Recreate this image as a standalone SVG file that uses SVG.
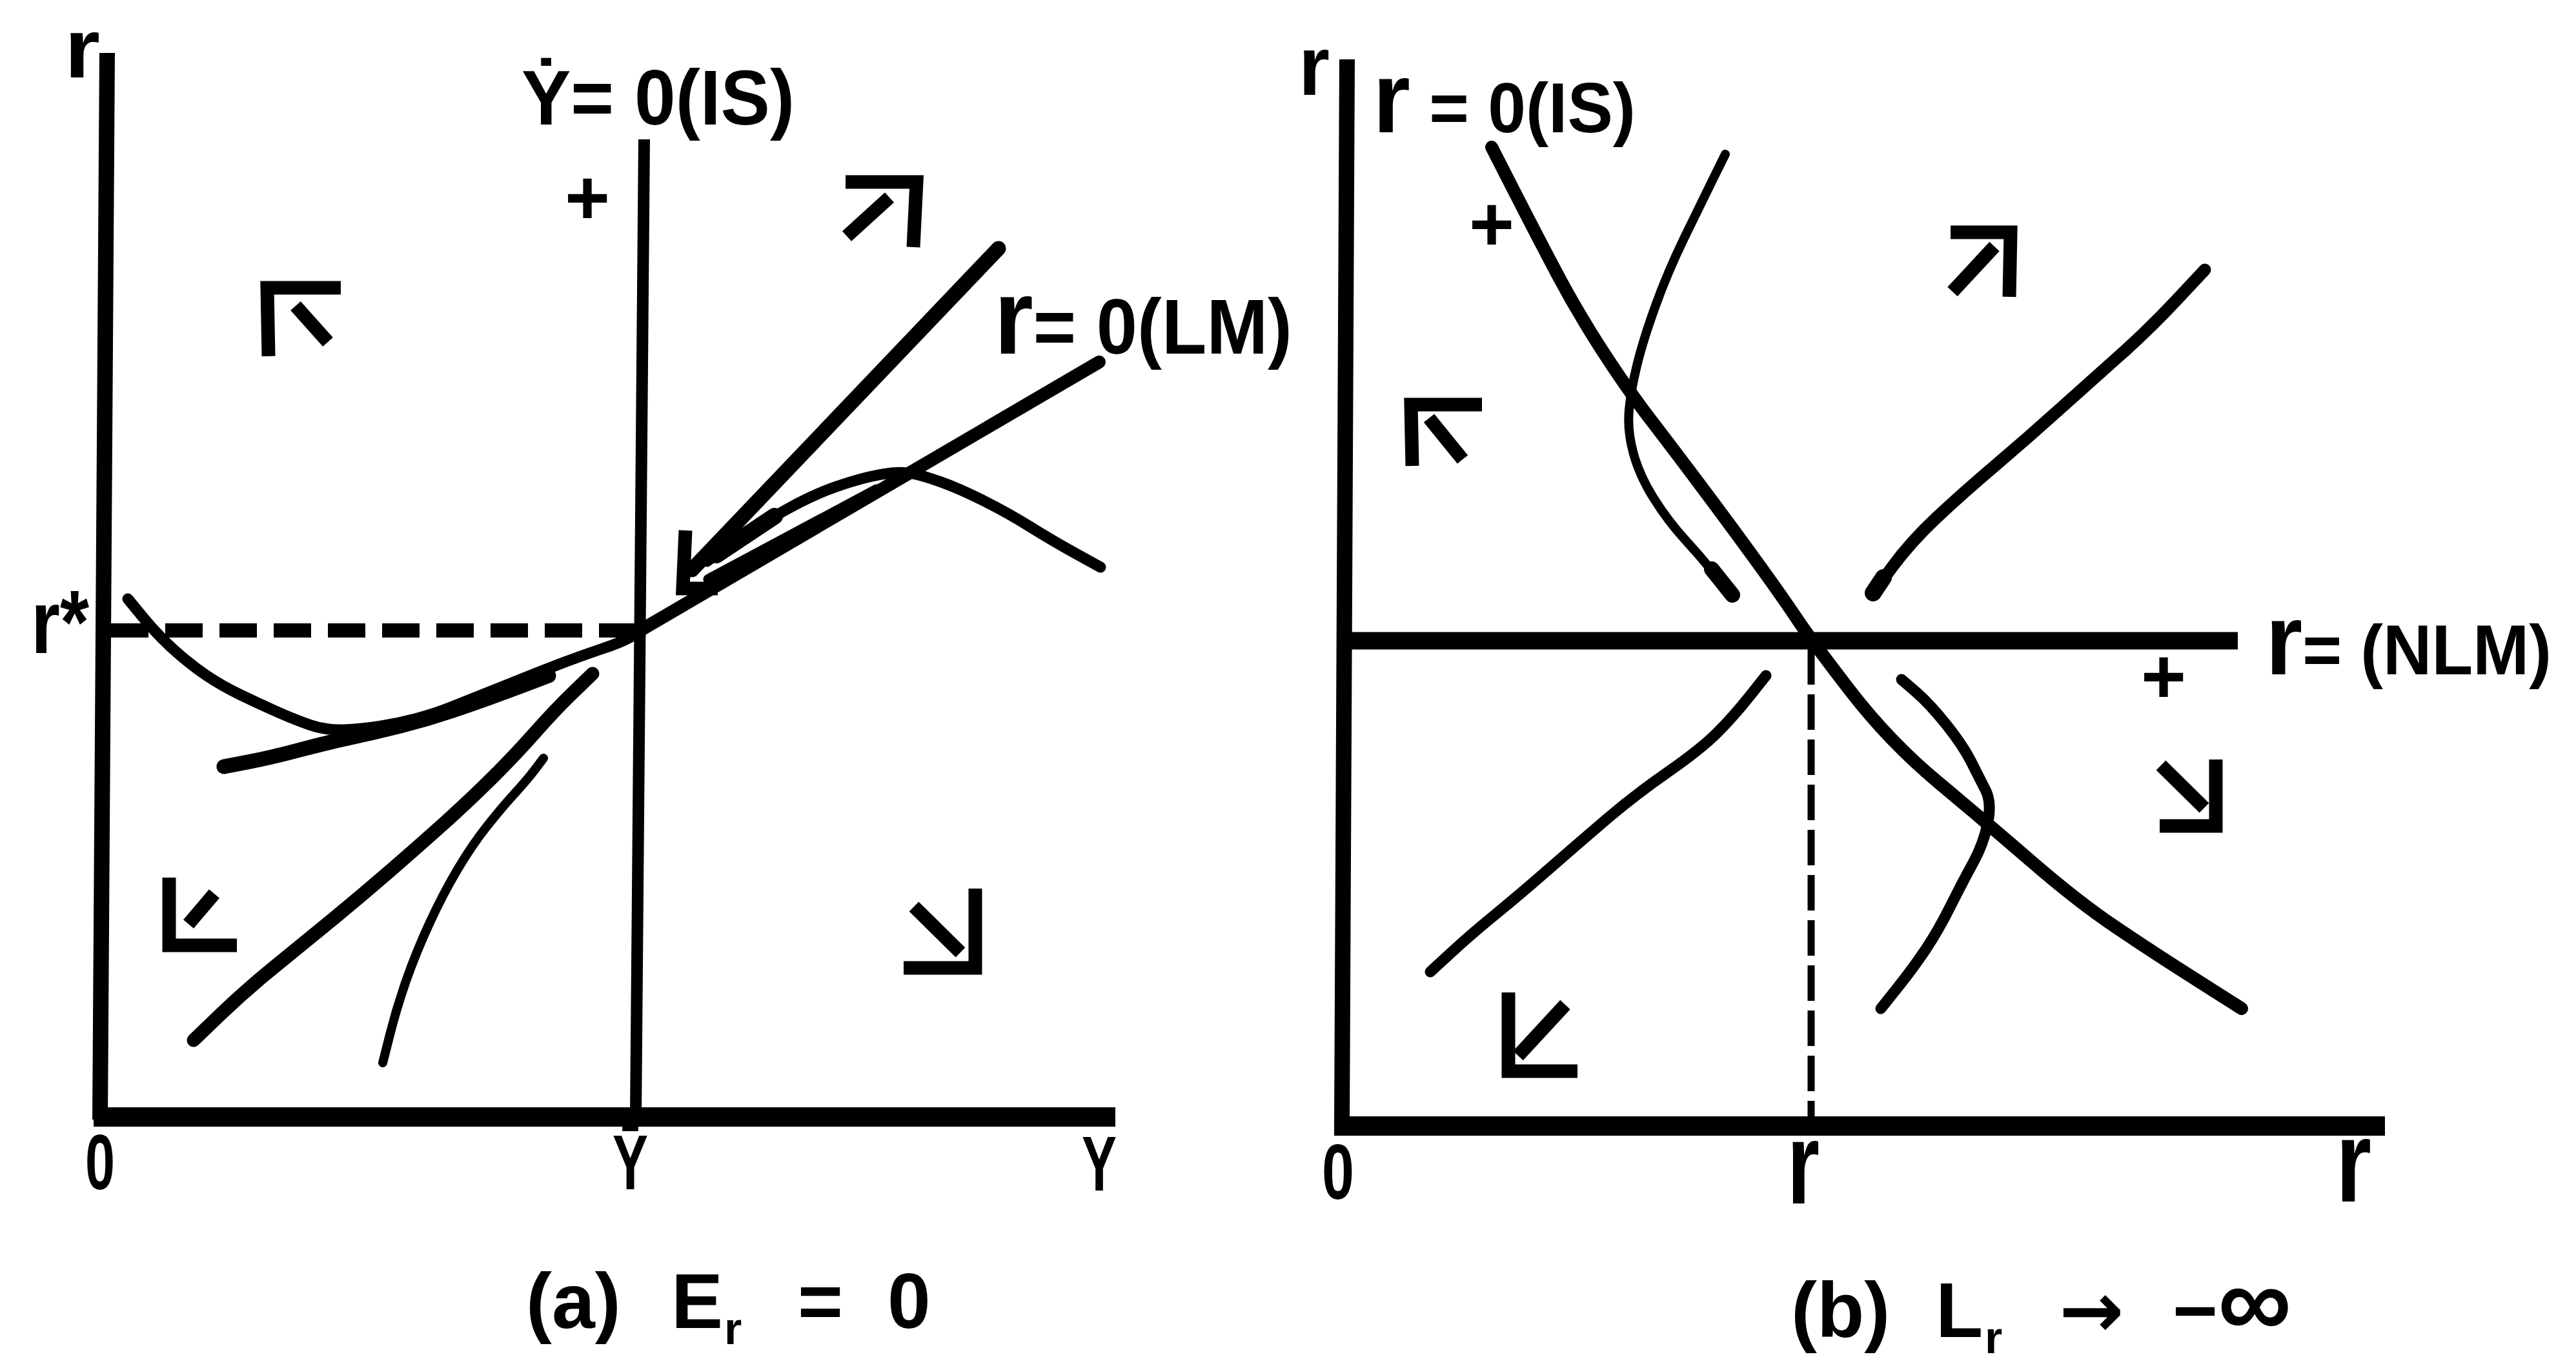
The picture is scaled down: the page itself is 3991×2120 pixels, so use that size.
<svg xmlns="http://www.w3.org/2000/svg" width="3991" height="2120" viewBox="0 0 3991 2120">
<style>
  .ink{fill:none;stroke:#000;stroke-linecap:round;stroke-linejoin:round}
  .axis{stroke-width:24;stroke-linecap:butt}
  .xaxis{stroke-width:30;stroke-linecap:butt}
  .isl{stroke-width:18;stroke-linecap:butt}
  .lm{stroke-width:20}
  .thick{stroke-width:21}
  .mid{stroke-width:17}
  .thin{stroke-width:14}
  .dashA{stroke-width:22;stroke-dasharray:58 26;stroke-linecap:butt}
  .dashB{stroke-width:11;stroke-dasharray:55 15;stroke-linecap:butt}
  .flow{fill:none;stroke:#000;stroke-width:21;stroke-linecap:butt;stroke-linejoin:miter}
  text{font-family:"Liberation Sans","DejaVu Sans",sans-serif;font-weight:bold;fill:#000}
</style>
<rect width="3991" height="2120" fill="#fff"/>

<g id="panel-a">
  <g id="a-axes" class="ink">
    <path class="axis" d="M166,82 L155,1735"/>
    <path class="xaxis" d="M145,1731 L1728,1731"/>
    <path id="a-is-line" class="isl" d="M998,216 L985,1731"/>
    <path id="a-rstar-dash" class="dashA" d="M172,977 L985,977"/>
  </g>
  <g id="a-curves" class="ink">
    <path id="a-lm-line" class="lm" d="M985,981 L1703,561"/>
    <path id="a-curve-A" class="mid" d="M198,928 L221,956 Q244,984 269.5,1007 Q295,1030 319.5,1046.5 Q344,1063 372,1076.5 Q400,1090 428,1102.5 Q456,1115 480.5,1123.5 Q505,1132 532.5,1131 Q560,1130 588.5,1125.5 Q617,1121 645.5,1113.5 Q674,1106 702.5,1094.5 Q731,1083 760,1071.5 Q789,1060 817.5,1048.5 Q846,1037 875,1026 Q904,1015 932.5,1005.5 Q961,996 975.5,988 L990,980"/>
    <path id="a-curve-B" class="thick" style="stroke-width:23" d="M347,1188 L383.5,1181 Q420,1174 461,1163 Q502,1152 541,1143.5 Q580,1135 620,1125 Q660,1115 700,1101.5 Q740,1088 770,1077 Q800,1066 825,1056.5 L850,1047"/>
    <path id="a-curve-C" class="thick" d="M300,1612 L340,1573.5 Q380,1535 425,1498.5 Q470,1462 515,1425 Q560,1388 605,1349 Q650,1310 690,1274 Q730,1238 765,1203 Q800,1168 830,1134 Q860,1100 889,1072 L918,1044"/>
    <path id="a-curve-D" class="thin" d="M593,1647 L604,1603.5 Q615,1560 630,1517.5 Q645,1475 665.5,1430.5 Q686,1386 708.5,1348 Q731,1310 754,1281 Q777,1252 797.5,1229.5 Q818,1207 830,1191 L842,1175"/>
    <path id="a-curve-E" class="thick" style="stroke-width:23" d="M1547,385 L1072,883"/>
    <path id="a-curve-E-head" class="flow" d="M1062,822 L1058,912 L1112,912"/>
    <path id="a-curve-F" class="mid" d="M1095,870 L1134.5,842.5 Q1174,815 1215,791.5 Q1256,768 1294.5,754.5 Q1333,741 1363.5,735.5 Q1394,730 1412,733.5 Q1430,737 1458,747 Q1486,757 1524,776 Q1562,795 1595.5,816 Q1629,837 1667,858 L1705,879"/>
    <path class="ink" style="stroke-width:26" d="M1110,860 L1200,800"/>
    <path id="a-curve-G" class="mid" d="M1098,898 L1358,759"/>
  </g>
  <g id="a-flows" class="flow">
    <path d="M528,446 L414,446 L416,552 M458,474 L508,530"/>
    <path d="M1310,282 L1420,282 L1415,383 M1378,306 L1312,366"/>
    <path d="M262,1360 L262,1465 L367,1465 M292,1432 L332,1385"/>
    <path d="M1511,1377 L1511,1500 L1400,1500 M1416,1405 L1488,1476"/>
  </g>
  <g id="a-labels">
    <text x="100" y="120" font-size="130" textLength="55" lengthAdjust="spacingAndGlyphs">r</text>
    <text x="808" y="193" font-size="120" textLength="423" lengthAdjust="spacingAndGlyphs">Ẏ= 0(IS)</text>
    <text x="910" y="348" font-size="120" text-anchor="middle">+</text>
    <text x="1540" y="548" font-size="120" textLength="462" lengthAdjust="spacingAndGlyphs"><tspan font-size="165">r</tspan>= 0(LM)</text>
    <text x="48" y="1012" font-size="140" textLength="90" lengthAdjust="spacingAndGlyphs">r*</text>
    <text x="132" y="1843" font-size="120" textLength="46" lengthAdjust="spacingAndGlyphs">0</text>
    <text x="949" y="1843" font-size="120" textLength="55" lengthAdjust="spacingAndGlyphs">Ȳ</text>
    <text x="1676" y="1845" font-size="120" textLength="54" lengthAdjust="spacingAndGlyphs">Y</text>
    <text y="2058" font-size="120"><tspan x="815">(a)</tspan><tspan x="1040">E</tspan><tspan x="1122" dy="25" font-size="70">r</tspan><tspan x="1236" dy="-25">=</tspan><tspan x="1375">0</tspan></text>
  </g>
</g>

<g id="panel-b">
  <g id="b-axes" class="ink">
    <path class="axis" d="M2087,92 L2079,1745"/>
    <path class="xaxis" d="M2067,1745 L3695,1745"/>
    <path id="b-lm-line" class="ink" style="stroke-width:27;stroke-linecap:butt" d="M2085,993 L3467,993"/>
    <path id="b-ybar-dash" class="dashB" d="M2806,1006 L2806,1735"/>
  </g>
  <g id="b-curves" class="ink">
    <path id="b-is-curve" class="mid" style="stroke-width:20" d="M2311,228 L2346,296.5 Q2381,365 2412.5,424.5 Q2444,484 2482.5,543.5 Q2521,603 2559,652.5 Q2597,702 2641.5,761.5 Q2686,821 2724,873.5 Q2762,926 2784,959 Q2806,992 2866.5,1070.5 Q2927,1149 3003,1212.5 Q3079,1276 3149,1336.5 Q3219,1397 3276,1435.5 Q3333,1474 3403,1518.5 L3473,1563"/>
    <path id="b-traj-1" class="thin" d="M2673,239 L2654,277.5 Q2635,316 2609.5,368.5 Q2584,421 2565,473.5 Q2546,526 2536.5,564.5 Q2527,603 2524,635 Q2521,667 2530.5,702 Q2540,737 2562,772 Q2584,807 2609.5,835 Q2635,863 2657.5,890.5 L2680,918"/>
    <path class="ink" style="stroke-width:24" d="M2652,882 L2684,922"/>
    <path id="b-traj-2" class="mid" style="stroke-width:19" d="M3416,418 L3373,464 Q3330,510 3285,550 Q3240,590 3190,635 Q3140,680 3090,722.5 Q3040,765 3000,802.5 Q2960,840 2931,879.5 L2902,919"/>
    <path class="ink" style="stroke-width:26" d="M2918,895 L2902,919"/>
    <path id="b-traj-3" class="mid" d="M2736,1047 L2711,1078.5 Q2686,1110 2660.5,1135.5 Q2635,1161 2584,1196.5 Q2533,1232 2488.5,1270 Q2444,1308 2400,1346.5 Q2356,1385 2317.5,1416.5 Q2279,1448 2247.5,1477 L2216,1506"/>
    <path id="b-traj-4" class="mid" d="M2946,1053 L2968,1072 Q2990,1091 3015.5,1123 Q3041,1155 3054,1180.5 Q3067,1206 3076.5,1225 Q3086,1244 3079.5,1276 Q3073,1308 3057,1337 Q3041,1366 3022,1404 Q3003,1442 2984,1470.5 Q2965,1499 2939.5,1531 L2914,1563"/>
  </g>
  <g id="b-flows" class="flow">
    <path d="M3022,360 L3115,360 L3113,460 M3090,382 L3025,452"/>
    <path d="M2296,627 L2186,627 L2188,722 M2214,648 L2266,712"/>
    <path d="M3433,1177 L3433,1280 L3346,1280 M3348,1186 L3415,1252"/>
    <path d="M2337,1538 L2337,1660 L2444,1660 M2425,1557 L2352,1636"/>
  </g>
  <g id="b-labels">
    <text x="2012" y="147" font-size="130" textLength="48" lengthAdjust="spacingAndGlyphs">r</text>
    <text x="2127" y="205" font-size="110" textLength="407" lengthAdjust="spacingAndGlyphs"><tspan font-size="155">r</tspan> = 0(IS)</text>
    <text x="2311" y="389" font-size="120" text-anchor="middle">+</text>
    <text x="3510" y="1045" font-size="110" textLength="443" lengthAdjust="spacingAndGlyphs"><tspan font-size="155">r</tspan>= (NLM)</text>
    <text x="3352" y="1090" font-size="120" text-anchor="middle">+</text>
    <text x="2048" y="1858" font-size="120" textLength="50" lengthAdjust="spacingAndGlyphs">0</text>
    <text x="2769" y="1865" font-size="180" textLength="50" lengthAdjust="spacingAndGlyphs">r</text>
    <text x="3619" y="1862" font-size="180" textLength="55" lengthAdjust="spacingAndGlyphs">r</text>
    <text y="2072" font-size="120"><tspan x="2775">(b)</tspan><tspan x="2999">L</tspan><tspan x="3075" dy="25" font-size="70">r</tspan><tspan x="3190" dy="-25" style="font-family:'DejaVu Sans',sans-serif">→</tspan><tspan x="3366">−</tspan><tspan font-size="160">∞</tspan></text>
  </g>
</g>
</svg>
